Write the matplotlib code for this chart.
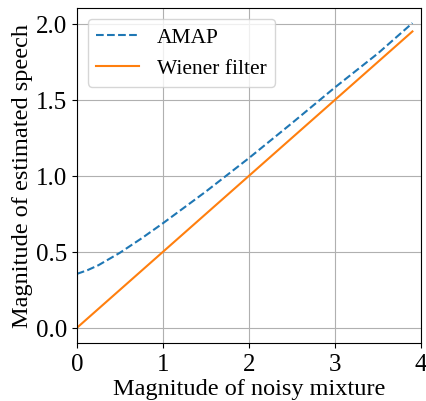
import matplotlib
matplotlib.use("Agg")
import matplotlib.pyplot as plt
import numpy as np

# values
x_amap = [0.0, 0.125, 0.25, 0.5, 0.75, 1.0, 1.5, 2.0, 2.5, 3.0, 3.5, 3.9]
y_amap = [0.355, 0.38, 0.412, 0.494, 0.588, 0.688, 0.897, 1.117, 1.347, 1.582, 1.806, 2.005]
x_wiener = [0.0, 1.0, 2.0, 3.0, 3.9]
y_wiener = [0.0, 0.5, 1.0, 1.5, 1.95]

plt.rcParams['font.family'] = ['Liberation Serif', 'DejaVu Serif']
plt.rcParams['mathtext.fontset'] = 'stix'

fig, ax = plt.subplots(figsize=(4.27, 4.02), dpi=100)
ax.plot(x_amap, y_amap, '--', color='tab:blue', label='AMAP')
ax.plot(x_wiener, y_wiener, '-', color='tab:orange', label='Wiener filter')
ax.set_xlim(0, 4)
ax.set_xticks([0, 1, 2, 3, 4])
ax.set_yticks([0.0, 0.5, 1.0, 1.5, 2.0])
ax.tick_params(labelsize=18)
ax.grid(True)
ax.set_xlabel('Magnitude of noisy mixture', fontsize=17.5, labelpad=2)
ax.set_ylabel('Magnitude of estimated speech', fontsize=17.5, labelpad=2)
ax.legend(fontsize=15.5, loc='upper left')
fig.subplots_adjust(left=0.18, right=0.986, bottom=0.144, top=0.978)
fig.savefig('out.png')
